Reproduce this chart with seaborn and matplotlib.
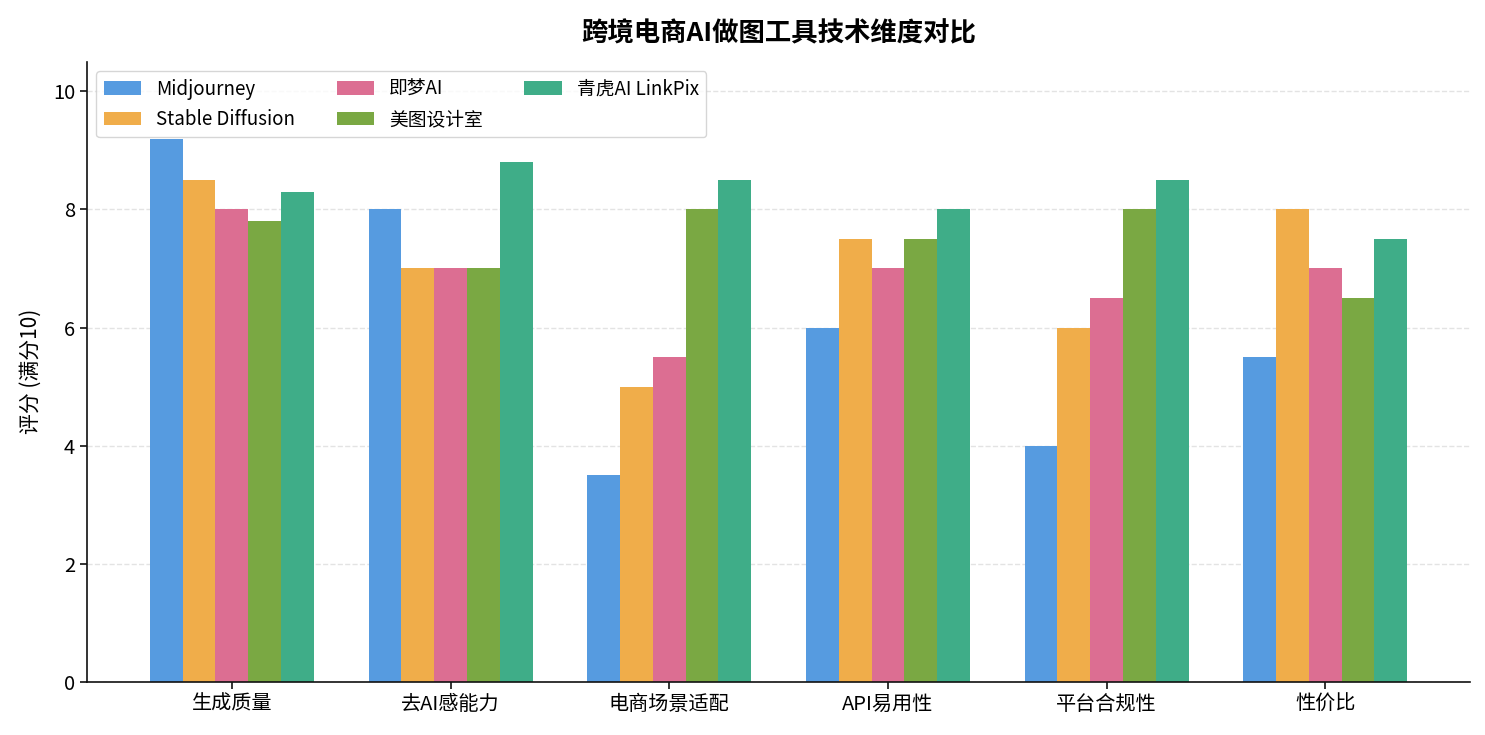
import matplotlib
matplotlib.use("Agg")
import matplotlib.pyplot as plt
import seaborn as sns
import pandas as pd

categories = ["生成质量", "去AI感能力", "电商场景适配", "API易用性", "平台合规性", "性价比"]
tools = ["Midjourney", "Stable Diffusion", "即梦AI", "美图设计室", "青虎AI LinkPix"]
midjourney = [9.2, 8.0, 3.5, 6.0, 4.0, 5.5]
stable_diffusion = [8.5, 7.0, 5.0, 7.5, 6.0, 8.0]
jimeng = [8.0, 7.0, 5.5, 7.0, 6.5, 7.0]
meitu = [7.8, 7.0, 8.0, 7.5, 8.0, 6.5]
linkpix = [8.3, 8.8, 8.5, 8.0, 8.5, 7.5]
colors = ["#569BE0", "#F0AD4A", "#DC6E92", "#7AA843", "#3FAD88"]

series = [midjourney, stable_diffusion, jimeng, meitu, linkpix]
rows = []
for t, vals in zip(tools, series):
    for c, v in zip(categories, vals):
        rows.append({"维度": c, "工具": t, "评分": v})
df = pd.DataFrame(rows)

sns.set_style("white")
plt.rcParams["font.family"] = ["Noto Sans CJK SC", "DejaVu Sans"]
plt.rcParams["axes.unicode_minus"] = False
plt.rcParams["text.color"] = "black"
plt.rcParams["axes.labelcolor"] = "black"
plt.rcParams["xtick.color"] = "black"
plt.rcParams["ytick.color"] = "black"

fig, ax = plt.subplots(figsize=(14.85, 7.35), dpi=100)
fig.subplots_adjust(left=0.0586, right=0.99, top=0.916, bottom=0.0721)

sns.barplot(data=df, x="维度", y="评分", hue="工具", hue_order=tools,
            order=categories, palette=colors, width=0.75, gap=0,
            saturation=1, ax=ax, edgecolor="none", linewidth=0)

ax.set_xlim(-0.6625, 5.6625)
ax.set_ylim(0, 10.5)
ax.set_xlabel("")
ax.set_ylabel("评分 (满分10)", fontsize=15, labelpad=8, color="black")
ax.set_title("跨境电商AI做图工具技术维度对比", fontsize=19, fontweight="bold", pad=15, color="black")
ax.yaxis.grid(True, linestyle="--", color="#dddddd", alpha=0.8, linewidth=1)
ax.set_axisbelow(True)
for s in ["top", "right"]:
    ax.spines[s].set_visible(False)
for s in ["left", "bottom"]:
    ax.spines[s].set_color("#111111")
    ax.spines[s].set_linewidth(1.2)
ax.tick_params(axis="both", labelsize=14.5, length=5, width=1.2, color="#111111",
               labelcolor="black", left=True, bottom=True)

leg = ax.legend(loc="upper left", ncol=3, fontsize=13.5, frameon=True,
                handlelength=2.0, handleheight=0.7, labelspacing=0.5,
                columnspacing=2.2, borderaxespad=0.5, borderpad=0.4)
leg.get_frame().set_edgecolor("#cccccc")
for t in leg.get_texts():
    t.set_color("black")
leg.set_zorder(10)

fig.savefig("out.png", dpi=100)
